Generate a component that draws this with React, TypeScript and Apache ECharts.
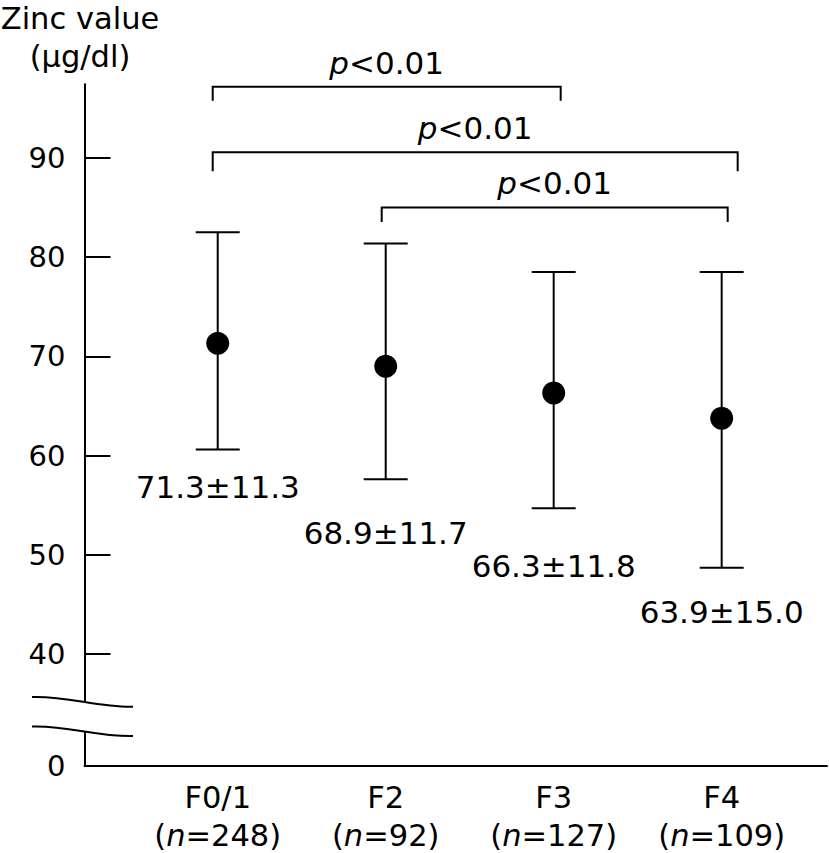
import React, { useEffect, useRef } from "react";
import * as echarts from "echarts";

const categories = ["F0/1", "F2", "F3", "F4"];
const nCounts = [248, 92, 127, 109];
const means = [71.3, 69.0, 66.3, 63.75];
const upper = [82.5, 81.35, 78.5, 78.5];
const lower = [60.6, 57.6, 54.7, 48.7];
const summaryLabels = ["71.3±11.3", "68.9±11.7", "66.3±11.8", "63.9±15.0"];
const yTickValues = [40, 50, 60, 70, 80, 90];
const yBottomValue = 28.75; // shown as "0" below the axis break
const bracketFrom = [0, 0, 1];
const bracketTo = [2, 3, 3];
const bracketLevel = [97.15, 90.55, 85.0];
const bracketText = ["p<0.01", "p<0.01", "p<0.01"];

// layout / style helpers (pixels)
const summaryOffset = [37, 54, 58, 44];
const bracketLeftOff = [-5, -5, -4];
const bracketRightOff = [7, 16, 6];
const bracketLeg = [14, 19, 14.5];

const FONT = '"DejaVu Sans", Verdana, sans-serif';

export default function App() {
  const ref = useRef<HTMLDivElement>(null);
  useEffect(() => {
    document.body.style.margin = "0";
    document.body.style.overflow = "hidden";
    document.documentElement.style.overflow = "hidden";
    const chart = echarts.init(ref.current!, null, { renderer: "svg" });
    const labelBase = { fontFamily: FONT, fontSize: 30.5, color: "#000" };
    const option: any = {
      animation: false,
      backgroundColor: "#fff",
      grid: {
        left: 84.5,
        right: 2,
        top: 84.3,
        bottom: 87.3,
        containLabel: false,
        outerBoundsMode: "none",
      },
      xAxis: {
        type: "value",
        min: 0.207,
        max: 4.627,
        splitLine: { show: false },
        axisTick: { show: false },
        axisLine: { show: true, onZero: false, lineStyle: { color: "#000", width: 2 } },
        axisLabel: {
          customValues: [1, 2, 3, 4],
          formatter: (v: number) => {
            const i = Math.round(v) - 1;
            return `{a|${categories[i]}}\n{b|(}{i|n}{b|=${nCounts[i]})}`;
          },
          ...labelBase,
          margin: 10,
          rich: {
            a: { ...labelBase, lineHeight: 44 },
            b: { ...labelBase, lineHeight: 32 },
            i: { ...labelBase, fontStyle: "italic", lineHeight: 32 },
          },
        },
      },
      yAxis: {
        type: "value",
        min: yBottomValue,
        max: 97.4,
        splitLine: { show: false },
        axisLine: { show: true, lineStyle: { color: "#000", width: 2 } },
        axisTick: {
          show: true,
          inside: true,
          length: 26,
          customValues: yTickValues,
          lineStyle: { color: "#000", width: 2 },
        },
        axisLabel: {
          customValues: [yBottomValue, ...yTickValues],
          formatter: (v: number) => (v < 35 ? "0" : String(v)),
          color: "#000",
          fontFamily: FONT,
          fontSize: 29,
          margin: 19,
        },
      },
      series: [
        {
          type: "custom",
          clip: false,
          z: 2,
          data: categories.map((_, i) => [i + 1, lower[i], upper[i], i]),
          renderItem: (params: any, api: any) => {
            const x = api.value(0);
            const lo = api.value(1);
            const hi = api.value(2);
            const idx = api.value(3);
            const pHi = api.coord([x, hi]);
            const pLo = api.coord([x, lo]);
            const ls = { stroke: "#000", lineWidth: 2 };
            return {
              type: "group",
              children: [
                { type: "line", shape: { x1: pHi[0], y1: pHi[1], x2: pLo[0], y2: pLo[1] }, style: ls },
                { type: "line", shape: { x1: pHi[0] - 22, y1: pHi[1], x2: pHi[0] + 22, y2: pHi[1] }, style: ls },
                { type: "line", shape: { x1: pLo[0] - 22, y1: pLo[1], x2: pLo[0] + 22, y2: pLo[1] }, style: ls },
                {
                  type: "text",
                  style: {
                    text: summaryLabels[idx],
                    x: pLo[0],
                    y: pLo[1] + summaryOffset[idx],
                    align: "center",
                    verticalAlign: "middle",
                    fontFamily: FONT,
                    fontSize: 31,
                    fill: "#000",
                  },
                },
              ],
            };
          },
        },
        {
          type: "scatter",
          z: 5,
          symbol: "circle",
          symbolSize: 23,
          itemStyle: { color: "#000", opacity: 1 },
          data: categories.map((_, i) => [i + 1, means[i]]),
        },
        {
          type: "custom",
          clip: false,
          z: 3,
          data: bracketFrom.map((f, i) => [f + 1, bracketTo[i] + 1, bracketLevel[i], i]),
          renderItem: (params: any, api: any) => {
            const a = api.value(0);
            const b = api.value(1);
            const lvl = api.value(2);
            const idx = api.value(3);
            const pA = api.coord([a, lvl]);
            const pB = api.coord([b, lvl]);
            const xl = pA[0] + bracketLeftOff[idx];
            const xr = pB[0] + bracketRightOff[idx];
            const y = pA[1];
            const leg = bracketLeg[idx];
            const ls = { stroke: "#000", lineWidth: 2, fill: null };
            const txt = bracketText[idx].replace(/^p/, "{i|p}");
            return {
              type: "group",
              children: [
                {
                  type: "polyline",
                  shape: { points: [[xl, y + leg], [xl, y], [xr, y], [xr, y + leg]] },
                  style: ls,
                },
                {
                  type: "text",
                  style: {
                    text: txt,
                    x: (xl + xr) / 2,
                    y: y - 24,
                    align: "center",
                    verticalAlign: "middle",
                    fontFamily: FONT,
                    fontSize: 31,
                    fill: "#000",
                    rich: {
                      i: { fontStyle: "italic", fontFamily: FONT, fontSize: 31, fill: "#000" },
                    },
                  },
                },
              ],
            };
          },
        },
      ],
      graphic: [
        {
          type: "text",
          z: 100,
          style: {
            text: "Zinc value\n(µg/dl)",
            x: 80,
            y: -1,
            align: "center",
            verticalAlign: "top",
            fontFamily: FONT,
            fontSize: 30.5,
            lineHeight: 38,
            fill: "#000",
          },
        },
        {
          type: "rect",
          z: 100,
          shape: { x: 80, y: 703, width: 9, height: 29 },
          style: { fill: "#fff" },
        },
        {
          type: "bezierCurve",
          z: 101,
          shape: { x1: 32, y1: 697, cpx1: 66, cpy1: 695.5, cpx2: 98, cpy2: 707.5, x2: 133, y2: 706.7 },
          style: { stroke: "#000", lineWidth: 2, fill: null },
        },
        {
          type: "bezierCurve",
          z: 101,
          shape: { x1: 32, y1: 726.5, cpx1: 66, cpy1: 725, cpx2: 98, cpy2: 737, x2: 133, y2: 736 },
          style: { stroke: "#000", lineWidth: 2, fill: null },
        },
      ],
    };
    chart.setOption(option);
    return () => chart.dispose();
  }, []);
  return (
    <div
      ref={ref}
      style={{ position: "fixed", left: 0, top: 0, width: 829, height: 853 }}
    />
  );
}
